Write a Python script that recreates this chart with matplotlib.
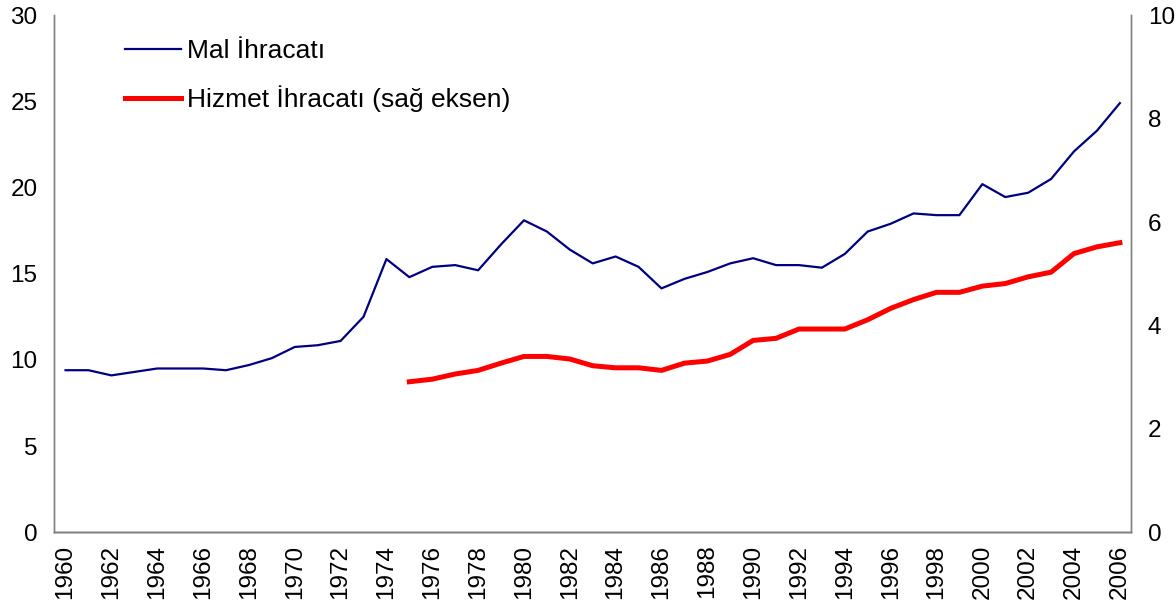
import matplotlib.pyplot as plt
import numpy as np

plt.rcParams["font.family"] = ["Liberation Sans", "DejaVu Sans"]

years = list(range(1960, 2007))
mal = [9.4, 9.4, 9.1, 9.3, 9.5, 9.5, 9.5, 9.4, 9.7, 10.1,
       10.75, 10.85, 11.1, 12.5, 15.85, 14.8, 15.4, 15.5, 15.2, 16.7,
       18.1, 17.45, 16.4, 15.6, 16.0, 15.4, 14.15, 14.7, 15.1, 15.6,
       15.9, 15.5, 15.5, 15.35, 16.15, 17.45, 17.9, 18.5, 18.4, 18.4,
       20.2, 19.45, 19.7, 20.5, 22.1, 23.3, 24.9]
hizmet_years = list(range(1975, 2007))
hizmet = [2.91, 2.96, 3.06, 3.13, 3.27, 3.40, 3.40, 3.35, 3.22, 3.18,
          3.18, 3.13, 3.27, 3.31, 3.44, 3.71, 3.75, 3.93, 3.93, 3.93,
          4.11, 4.33, 4.50, 4.64, 4.64, 4.76, 4.81, 4.94, 5.03, 5.39,
          5.52, 5.60]

fig = plt.figure(figsize=(11.76, 6.11), dpi=100)
ax = fig.add_axes([0.046, 0.129, 0.916, 0.846])
ax2 = ax.twinx()

l1, = ax.plot(years, mal, color="#000080", lw=1.6, label="Mal İhracatı")
l2, = ax2.plot(hizmet_years, hizmet, color="#ff0000", lw=3.6,
               label="Hizmet İhracatı (sağ eksen)")

ax.set_xlim(1959.5, 2006.5)
ax.set_ylim(0, 30)
ax2.set_ylim(0, 10)
ax.set_yticks(range(0, 31, 5))
ax2.set_yticks(range(0, 11, 2))
ax.set_xticks(years[::2])
ax.set_xticklabels([str(y) for y in years[::2]], rotation=90)

for a in (ax, ax2):
    a.tick_params(length=0, labelsize=17.5)
    a.spines["top"].set_visible(False)
    for s in ("left", "right", "bottom"):
        a.spines[s].set_color("#808080")
        a.spines[s].set_linewidth(1.0)
ax.spines["bottom"].set_color("black")
ax.tick_params(axis="y", pad=12)
ax2.tick_params(axis="y", pad=12)
ax.tick_params(axis="x", pad=9)

ax.legend([l1, l2], [l1.get_label(), l2.get_label()], loc="upper left",
          bbox_to_anchor=(0.066, 0.954), frameon=False, fontsize=19,
          handlelength=2.1, labelspacing=0.85, handletextpad=0.25,
          borderpad=0, borderaxespad=0)

fig.savefig("out.png", dpi=100)
